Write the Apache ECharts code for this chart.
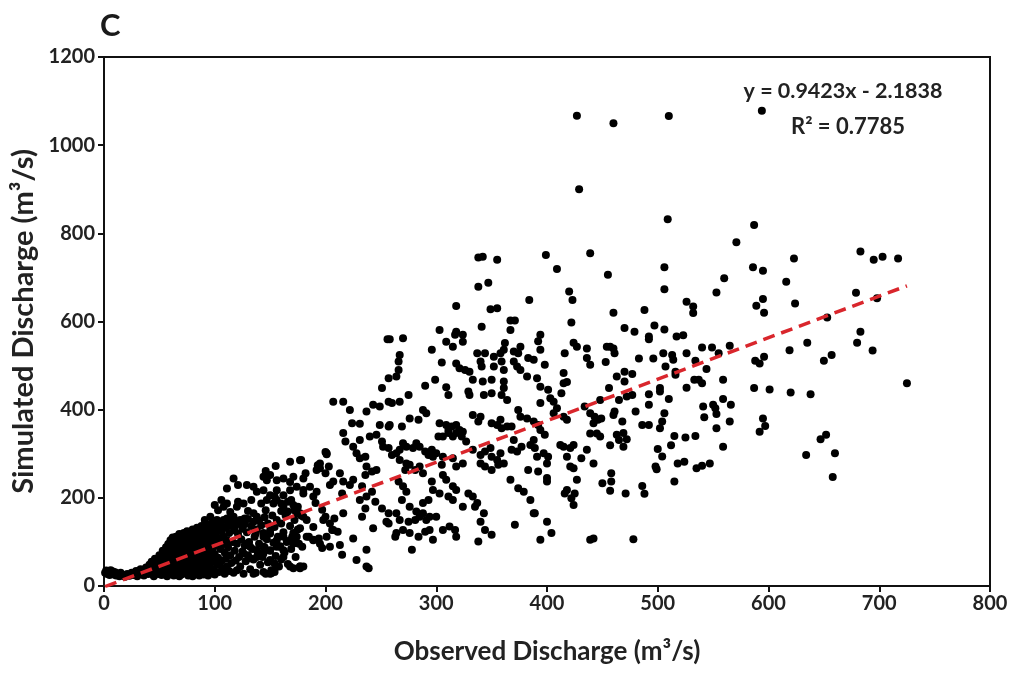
<!DOCTYPE html>
<html>
<head>
<meta charset="utf-8">
<script src="https://cdn.jsdelivr.net/npm/echarts@6/dist/echarts.min.js"></script>
<style>html,body{margin:0;padding:0;background:#fff}#c{width:1018px;height:675px}</style>
</head>
<body>
<div id="c"></div>
<script>
// ---- data (observed, simulated) ----
const originCluster = [[1,30],[2,35],[3,27],[4,32],[5,25],[6,36],[7,29],[8,33],[9,26],[10,31],[11,24],[12,28],[14,22],[15,30],[17,25],[19,21],[21,27],[23,23],[25,30],[27,25],[29,34],[30,22],[32,28],[33,38],[35,31],[36,24],[38,42],[39,35],[40,27],[41,48]];
const lowBandA = [[42,30],[43,55],[44,40],[45,22],[46,62],[47,35],[48,48],[49,27],[50,70],[50,55],[51,38],[52,25],[53,80],[53,62],[54,45],[55,30],[56,88],[56,70],[57,52],[57,22],[58,95],[58,38],[59,78],[59,60],[60,104],[60,44],[60,28],
[61,86],[61,68],[62,110],[62,52],[62,35],[63,96],[63,24],[64,75],[64,58],[65,112],[65,40],[66,100],[66,84],[66,30],[67,66],[67,48],[68,118],[68,92],[68,22],[69,76],[69,56],[70,108],[70,38],[70,26],[71,98],[71,64],[72,120],[72,84],[72,46],[73,112],[73,30],[74,72],[74,54],[75,124],[75,94],[75,36],[76,104],[76,62],[76,24],[77,80],[77,44],[78,118],[78,90],[78,30],[79,70],[79,52],[80,128],[80,100],[80,38],[80,22]];
const lowBandB = [[81,112],[81,82],[81,60],[82,122],[82,46],[82,28],[83,94],[83,68],[84,132],[84,108],[84,34],[85,78],[85,54],[86,118],[86,88],[86,24],[87,100],[87,64],[87,40],[88,136],[88,114],[88,30],[89,84],[89,50],[90,128],[90,96],[90,70],[90,26],[91,110],[91,42],[92,140],[92,120],[92,58],[93,88],[93,34],[94,104],[94,76],[94,24],[95,132],[95,64],[95,46],[96,116],[96,94],[97,142],[97,30],[98,124],[98,84],[98,56],[99,106],[99,38],[100,136],[100,72],[100,26],
[101,118],[101,92],[102,146],[102,48],[103,128],[103,64],[104,108],[104,32],[105,140],[105,84],[106,124],[106,56],[107,96],[107,40],[108,150],[108,112],[109,76],[109,28],[110,132],[110,62],[111,104],[111,44],[112,142],[112,88],[113,120],[113,34],[114,70],[115,136],[115,52],[116,100],[117,148],[117,30],[118,126],[118,80],[119,58],[120,140],[120,96],[120,36]];
const lowBandC = [[121,118],[122,66],[123,150],[123,44],[124,106],[125,130],[125,78],[126,28],[127,140],[127,92],[128,56],[129,122],[130,152],[130,70],[131,100],[132,38],[133,136],[134,84],[135,146],[135,60],[136,112],[137,30],[138,128],[139,76],[140,148],[140,96],[141,48],[142,138],[143,66],[144,120],[145,156],[145,88],[146,28],[147,106],[148,142],[148,54],[150,126],[150,80],[151,36],[152,160],[153,98],[154,134],[155,68],[156,150],[157,112],[158,44],[159,90],[160,142],[160,60],[162,122],[163,76],[164,160],[165,100],[166,50],[168,136],[169,84],[170,112],[171,40],[172,150],[173,66],[175,128],[176,96],[177,44],[178,160]];
const upperBand = [[100,184],[103,172],[108,180],[111,187],[114,168],[120,180],[126,187],[91,150],[96,157],[102,150],[111,153],[117,157],[124,142],[127,153],[135,165],[138,157],[106,195],[111,221],[117,244],[121,229],[129,229],[135,225],[138,214],[144,217],[150,206],[156,217],[162,206],[168,217],[174,225],[180,210],[168,236],[162,244],[156,240],[171,248],[180,244],[186,225],[192,214],[146,261],[155,272],[144,248],[147,240],[150,252],[168,282],[177,285],[193,274],[195,267],[200,304],[201,299],[153,187],[156,195],[162,180],[166,191],[171,184],[174,165],[180,157],[183,150],[189,134],[198,150],[204,142],[208,153],[142,187],[147,195],[154,203],[160,187],[169,195],[175,180],[121,191],[133,195],[130,170],[146,172],[160,170],[166,169],[172,172]];
const lowerBand = [[177,131],[185,112],[189,104],[195,96],[201,112],[204,89],[211,123],[171,120],[174,112],[171,97],[137,119],[144,112],[150,119],[156,104],[162,112],[168,104],[129,96],[132,89],[138,81],[144,89],[150,81],[156,89],[162,81],[126,74],[132,63],[138,66],[144,74],[150,59],[156,44],[162,66],[168,44],[180,44],[177,40],[135,28],[144,32],[150,28],[154,32],[179,89],[172,97],[159,89],[154,51],[151,29]];
const midScatter = [[318,635],[349,628],[355,630],[384,649],[423,649],[367,602],[371,602],[367,581],[341,588],[303,581],[318,577],[317,570],[324,570],[422,598],
[394,570],[392,555],[256,560],[258,560],[270,562],[309,554],[315,543],[324,554],[362,551],[361,536],[376,543],[374,528],[370,532],[424,552],[427,543],[436,539],[296,536],[267,524],[266,509],[394,536],[416,528],[337,528],[344,528],[352,520],[358,528],[318,505],[305,507],[321,494],[326,490],[330,486],[340,509],[341,498],[352,498],[359,509],[361,490],[370,509],[373,498],[383,517],[388,513],[398,502],[436,517],[439,502],[266,490],[264,475],[376,490],[382,475],[391,471],[415,483],[415,460],[418,463],[333,468],[342,464],[350,468],[361,464],[361,449],[257,471],[251,449],[299,468],[290,454],[309,451],[311,433],[329,441],[330,433],[343,433],[350,437],[359,433],[364,422],[394,452],[401,445],[403,426],[413,437],[406,418],[394,415],
[207,418],[216,418],[222,399],[237,396],[243,411],[249,407],[257,418],[260,415],[267,418],[275,433],[224,369],[231,368],[249,365],[257,362],[258,365],[269,362],[276,380],[284,377],[288,399],[291,392],[303,369],[309,365],[311,354],[314,362],[318,365],[321,354],[324,350],[333,388],[338,373],[340,384],[350,369],[355,365],[358,377],[359,358],[364,362],[368,362],[374,399],[376,384],[382,380],[388,373],[392,365],[394,354],[398,343],[406,392],[409,403],[415,384],[418,377],[434,407],[439,392],[443,384],[446,377],[442,369],
[216,347],[218,328],[225,316],[231,331],[240,339],[246,343],[251,328],[252,316],[257,313],[260,297],[264,301],[267,309],[270,324],[273,316],[279,313],[282,324],[285,316],[290,305],[293,297],[296,309],[300,301],[302,339],[306,339],[311,347],[315,339],[318,347],[323,339],[327,328],[267,286],[273,278],[272,263],[276,275],[281,263],[285,271],[288,256],[297,293],[306,293],[305,275],[315,290],[318,271],[324,278],[333,309],[340,297],[344,305],[349,313],[350,293],[355,286],[358,301],[340,278],[344,271],[350,263],[356,275],[361,278],[368,309],[373,305],[370,331],[377,316],[385,320],[388,331],[389,313],[391,293],[397,301],[401,293],[400,278],[392,260],[400,237],[383,263],[412,320],[415,316],[421,313],[424,320],[418,293],[421,271],[424,267],[427,241],[431,290],[442,278],[436,309],[439,346],[445,346],
[418,218],[416,210],[422,199],[424,184],[425,210],[400,245],[389,165],[400,146],[404,120],[394,105],[371,139],[388,165],[374,222],[379,214],[385,195],[367,241],[343,165],[340,146],[344,127],[350,116],[338,101],[329,210],[333,203],[337,188],[335,180],[324,180],[306,252],[309,241],[315,226],[318,218],[311,203],[315,195],[296,237],[297,218],[303,210],[293,195],[288,188],[266,237],[270,226],[273,214],[269,195],[276,180],[282,169],[288,165],[264,165],[267,150],[275,146],[281,150],[285,157],[291,150],[294,157],[300,157],[257,142],[264,120],[270,127],[276,120],[284,112],[290,123],[294,127],[297,105],[306,127],[312,135],[317,127],[318,112],[278,82],[263,112],[243,131],[255,146],[257,165],[251,176],[245,191],[236,176],[233,157],[231,195],[237,203],[242,214],[233,226],[225,241],[222,229],[216,237],[213,256],[207,237],[204,229],[203,271],[228,301],[231,290],[236,293],[237,271],[236,252],[242,260],[246,263],[215,210],[216,165],[206,127],[200,157],[197,173],[191,188],[189,203],[180,218],[177,165],[182,256],[178,286],[195,278],[192,263],[201,301],[200,256],[183,112],[189,105],[194,108],[197,86],[207,127],[213,93],[215,71],[225,108],[228,59],[237,82],[239,40],[237,44],[177,44],[442,108],[439,105]];
const rightScatter = [[460,620],[488,626],[470,585],[479,577],[492,566],[492,560],[497,591],[506,582],[517,566],[523,569],[589,636],[596,620],[624,641],[526,645],[532,634],[532,619],[653,609],
[454,543],[457,543],[460,539],[461,528],[453,508],[483,516],[496,516],[505,528],[513,524],[514,513],[526,528],[540,541],[549,541],[555,528],[565,545],[619,535],[635,552],[657,524],[680,552],[683,577],[694,534],
[544,492],[534,511],[537,468],[540,460],[533,468],[526,450],[559,468],[559,424],[566,411],[550,411],[552,403],[541,407],[542,383],[553,390],[553,358],[565,373],[559,316],[588,511],[592,505],[596,520],[650,511],[587,449],[601,446],[620,439],[638,435],[725,460],[595,380],[597,363],[592,350],[647,333],[652,343],[634,297],[660,301],[658,247],
[463,475],[470,486],[477,481],[470,464],[456,449],[465,422],[472,430],[477,433],[492,435],[502,449],[502,441],[510,424],[516,486],[507,498],[516,479],[448,422],[449,380],[460,388],[461,396],[468,373],[480,396],[486,365],[492,365],[492,411],[504,373],[506,392],[502,358],[463,343],[469,347],[465,331],[472,333],[469,316],[457,319],[448,339],[515,340],[525,337],[534,340],[512,319],[500,311],[504,294],[498,271],[499,265],[518,278],[524,282],[515,237],[535,267],[540,273],[547,278],[458,256],[458,237],[450,233],[457,216],[471,210],[486,227],[488,209],[478,106]];
const topScatter = [[427,1067],[460,1050],[510,1066],[594,1078],[429,900],[509,832],[587,819],[571,780],[683,759],[695,740],[703,747],[717,743],[623,743],[338,745],[342,747],[355,740],[399,751],[439,755],[409,719],[455,706],[506,723],[586,723],[595,715],[616,690],[560,698],[338,679],[347,688],[420,668],[553,666],[506,673],[679,665],[698,653],[595,651]];

const trendSlope = 0.9423;
const trendIntercept = -2.1838;
const rSquared = 0.7785;
const xTicks = {min: 0, max: 800, interval: 100};
const yTicks = {min: 0, max: 1200, interval: 200};

const points = [].concat(originCluster, lowBandA, lowBandB, lowBandC, upperBand, lowerBand, midScatter, rightScatter, topScatter);
const xs = points.map(p => p[0]);
const xMin = Math.min(...xs), xMax = Math.max(...xs);
const trendLine = [[xMin, trendSlope * xMin + trendIntercept], [xMax, trendSlope * xMax + trendIntercept]];

const FONT = 'Lato';
const chart = echarts.init(document.getElementById('c'), null, {renderer: 'canvas'});
chart.setOption({
  animation: false,
  backgroundColor: '#fff',
  title: {text: 'C', left: 95, top: 5, textStyle: {fontFamily: FONT, fontWeight: 'bold', fontSize: 31, color: '#1a1a1a'}},
  grid: {left: 104, right: 28, top: 57, bottom: 89, show: true, borderColor: '#111', borderWidth: 2, backgroundColor: 'transparent'},
  xAxis: {
    type: 'value', min: xTicks.min, max: xTicks.max, interval: xTicks.interval,
    name: 'Observed Discharge (m³/s)', nameLocation: 'middle', nameGap: 53,
    nameTextStyle: {fontFamily: FONT, fontWeight: 'bold', fontSize: 26, color: '#222'},
    axisLine: {lineStyle: {color: '#111', width: 2}},
    axisTick: {show: true, inside: false, length: 6, lineStyle: {color: '#111', width: 2}},
    axisLabel: {fontFamily: FONT, fontWeight: 'bold', fontSize: 20, color: '#222', margin: 8, formatter: v => String(v)},
    splitLine: {show: false}
  },
  yAxis: {
    type: 'value', min: yTicks.min, max: yTicks.max, interval: yTicks.interval,
    name: 'Simulated Discharge (m³/s)', nameLocation: 'middle', nameGap: 62,
    nameTextStyle: {fontFamily: FONT, fontWeight: 'bold', fontSize: 29, color: '#222'},
    axisLine: {lineStyle: {color: '#111', width: 2}},
    axisTick: {show: true, inside: false, length: 6, lineStyle: {color: '#111', width: 2}},
    axisLabel: {fontFamily: FONT, fontWeight: 'bold', fontSize: 20, color: '#222', margin: 9, formatter: v => String(v)},
    splitLine: {show: false}
  },
  series: [
    {type: 'scatter', data: points, symbol: 'circle', symbolSize: 8, itemStyle: {color: '#000', opacity: 1}, z: 2},
    {type: 'line', data: trendLine, symbol: 'none', clip: true, lineStyle: {color: '#d9262c', width: 3.5, type: [12, 7]}, z: 3}
  ],
  graphic: [
    {type: 'text', x: 843, y: 91, style: {text: 'y = ' + trendSlope + 'x - ' + Math.abs(trendIntercept), textAlign: 'center', textVerticalAlign: 'middle', fontFamily: FONT, fontWeight: 'bold', fontSize: 21.5, fill: '#222'}},
    {type: 'text', x: 848, y: 127, style: {text: 'R² = ' + rSquared, textAlign: 'center', textVerticalAlign: 'middle', fontFamily: FONT, fontWeight: 'bold', fontSize: 22, fill: '#222'}}
  ]
});
</script>
</body>
</html>
